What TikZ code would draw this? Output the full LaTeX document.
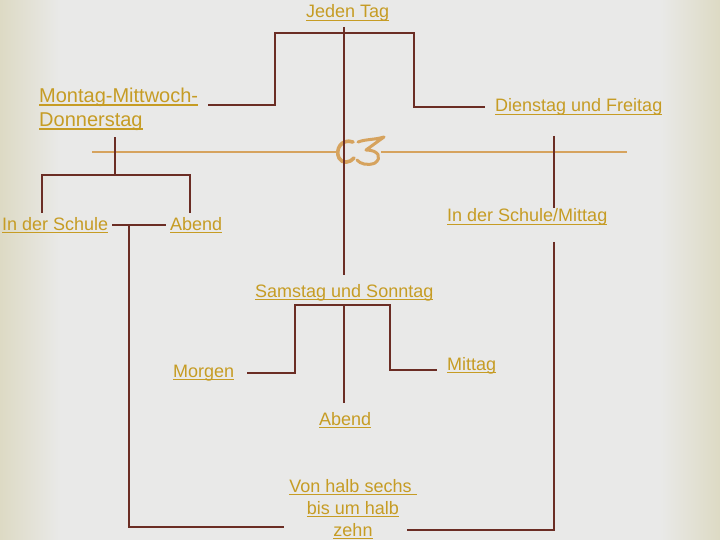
\documentclass[tikz,border=0pt]{standalone}
\usepackage{fontspec}
\setmainfont{Liberation Sans}
\usetikzlibrary{calc}
\definecolor{linkbrown}{HTML}{6B2D24}
\definecolor{labelgold}{HTML}{C69C24}
\definecolor{ornament}{HTML}{D6A35E}
\definecolor{paper}{HTML}{E9E9E8}
\definecolor{paperedge}{HTML}{DDDAC4}
\newsavebox\ulbox
\newcommand{\ulin}[1]{\sbox\ulbox{#1}\rlap{\rule[-3pt]{\wd\ulbox}{1.4pt}}\usebox\ulbox}

\begin{document}
\begin{tikzpicture}[
  x=1pt, y=-1pt,
  font=\fontsize{18}{22}\selectfont,
  day/.style ={inner sep=0pt, text=labelgold, anchor=base west},
  link/.style={draw=linkbrown, line width=2pt},
  deco/.style={draw=ornament, line width=1.5pt},
  glyph/.style={draw=ornament, line width=3.6pt, line cap=round, line join=round},
]
% paper
\fill[paper] (0,0) rectangle (720,540);
\shade[left color=paperedge, right color=paper] (0,0) rectangle (60,540);
\shade[left color=paper, right color=paperedge] (660,0) rectangle (720,540);
\useasboundingbox (0,0) rectangle (720,540);
% ornament
\draw[deco] (92,152) -- (336,152);
\draw[deco] (381,152) -- (627,152);
\draw[glyph] (353,142) .. controls (341,138) and (335,150) .. (339,158) .. controls (342,164) and (350,163) .. (354,158);
\draw[glyph, line width=3pt] (358,142) .. controls (366,139) and (374,140) .. (384,137) -- (366,150) .. controls (379,150) and (382,158) .. (375,163) .. controls (368,166) and (360,164) .. (357,160);
% labels
\node[day] (jeden) at (306,18) {\ulin{Jeden Tag}};
\node[day, anchor=north west, align=left, font=\fontsize{20}{24}\selectfont] (mmd) at (39,88) {\ulin{Montag-Mittwoch-}\\\ulin{Donnerstag}};
\node[day] (dienstag) at (495,112) {\ulin{Dienstag und Freitag}};
\node[day] (schule) at (2,230) {\ulin{In der Schule}};
\node[day] (abend) at (170,230) {\ulin{Abend}};
\node[day] (schulemittag) at (447,222) {\ulin{In der Schule/Mittag}};
\node[day] (samstag) at (255,297) {\ulin{Samstag und Sonntag}};
\node[day] (morgen) at (173,377) {\ulin{Morgen}};
\node[day] (mittag) at (447,370) {\ulin{Mittag}};
\node[day] (abendzwei) at (319,425) {\ulin{Abend}};
\node[day, anchor=north, align=center] (halb) at (353,479) {\ulin{Von halb sechs\ }\\\ulin{bis um halb}\\\ulin{zehn}};
% Jeden Tag
\coordinate (tl) at (275,33);
\coordinate (tr) at (414,33);
\draw[link] ($(samstag.north |- jeden.south)+(0,5)$) -- ($(samstag.north)+(0,-9)$);
\draw[link] ($(mmd.north east)+(10,17)$) -| (tl) -- (tr) |- ($(dienstag.west)+(-10,0)$);
% Montag-Mittwoch-Donnerstag
\coordinate (mb) at (115,175);
\draw[link] ($(mb |- mmd.south)+(0,6)$) -- (mb);
\draw[link] ($(schule.north west)+(40,-4)$) |- (mb) -| ($(abend.north west)+(20,-4)$);
\draw[link] ($(schule.east)+(4,0)$) -- coordinate[pos=0.3] (lb) ($(abend.west)+(-4,0)$);
\draw[link] (lb) |- ($(halb.south west)+(-5,-12)$);
% Dienstag und Freitag
\coordinate (dx) at (554,136);
\draw[link] (dx) -- ($(dx |- schulemittag.north)+(0,-1)$);
\draw[link] ($(dx |- schulemittag.south)+(0,16)$) |- ($(halb.south east)+(-10,-9)$);
% Samstag und Sonntag
\coordinate (sl) at (295,305);
\coordinate (sr) at (390,305);
\draw[link] ($(morgen.east)+(13,0)$) -| (sl) -- (sr) |- ($(mittag.west)+(-10,5)$);
\draw[link] ($(samstag.south)+(0,4)$) -- ($(samstag.south |- abendzwei.north)+(0,-9)$);
\end{tikzpicture}
\end{document}
